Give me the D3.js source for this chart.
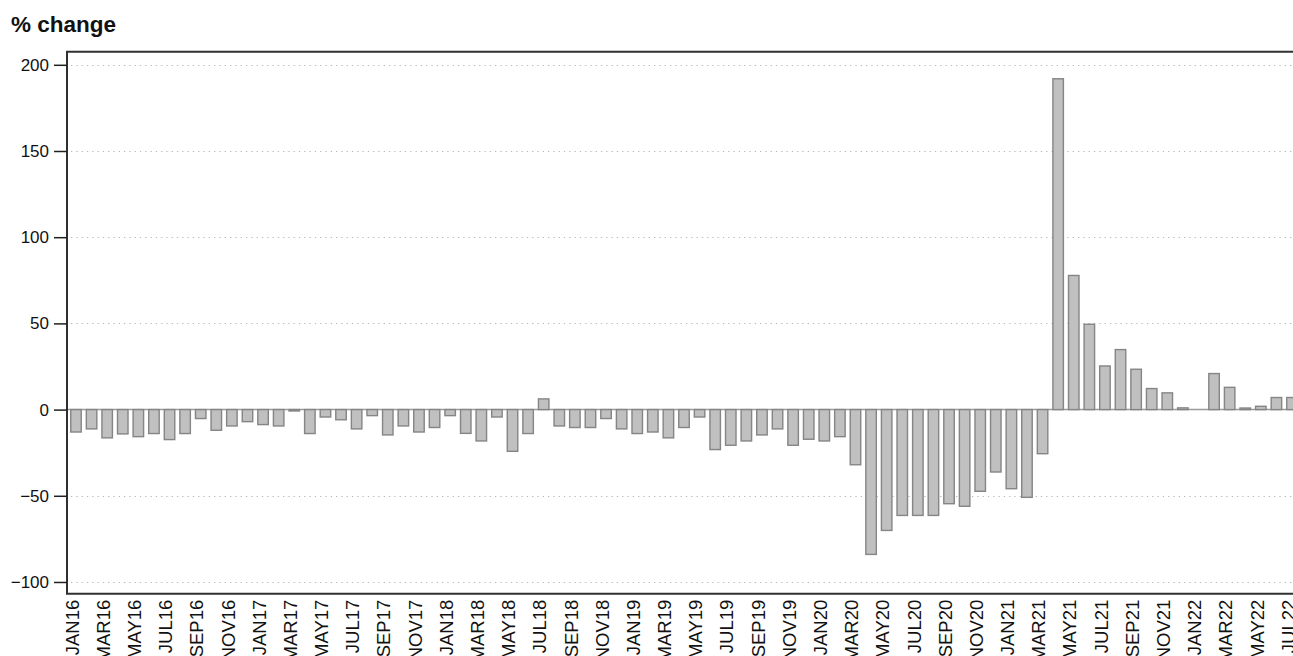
<!DOCTYPE html>
<html>
<head>
<meta charset="utf-8">
<script src="https://cdn.jsdelivr.net/npm/d3@7/dist/d3.min.js"></script>
<style>
  html, body { margin: 0; padding: 0; background: #fff; overflow: hidden; }
  svg { display: block; font-family: "Liberation Sans", Arial, sans-serif; }
</style>
</head>
<body>
<svg id="chart" width="1293" height="656"></svg>
<script>
// Month labels, Jan 2016 – Jul 2022
const months = [
  "JAN16","FEB16","MAR16","APR16","MAY16","JUN16","JUL16","AUG16","SEP16","OCT16","NOV16","DEC16",
  "JAN17","FEB17","MAR17","APR17","MAY17","JUN17","JUL17","AUG17","SEP17","OCT17","NOV17","DEC17",
  "JAN18","FEB18","MAR18","APR18","MAY18","JUN18","JUL18","AUG18","SEP18","OCT18","NOV18","DEC18",
  "JAN19","FEB19","MAR19","APR19","MAY19","JUN19","JUL19","AUG19","SEP19","OCT19","NOV19","DEC19",
  "JAN20","FEB20","MAR20","APR20","MAY20","JUN20","JUL20","AUG20","SEP20","OCT20","NOV20","DEC20",
  "JAN21","FEB21","MAR21","APR21","MAY21","JUN21","JUL21","AUG21","SEP21","OCT21","NOV21","DEC21",
  "JAN22","FEB22","MAR22","APR22","MAY22","JUN22","JUL22"
];

// Year-over-year % change for each month
const pctChange = [
  -13.0, -11.2, -16.4, -14.1, -15.7, -13.9, -17.4, -13.9,  -5.2, -12.0,  -9.5,  -7.0,
   -8.7,  -9.5,  -0.8, -13.9,  -4.3,  -5.9, -11.2,  -3.5, -14.7,  -9.5, -13.0, -10.4,
   -3.5, -13.8, -18.2,  -4.3, -24.2, -13.9,   6.2,  -9.5, -10.4, -10.4,  -5.2, -11.2,
  -13.9, -13.0, -16.4, -10.4,  -4.3, -23.2, -20.7, -18.2, -14.7, -11.2, -20.7, -17.2,
  -18.2, -15.7, -32.0, -84.0, -70.1, -61.4, -61.4, -61.4, -54.6, -56.1, -47.4, -36.2,
  -45.9, -50.9, -25.6, 191.9,  77.8,  49.5,  25.3,  34.8,  23.4,  12.2,   9.7,   1.0,
    0.0,  20.9,  12.9,   0.9,   1.9,   7.0,   7.0
];

// Y-axis ticks
const yTicks = [-100, -50, 0, 50, 100, 150, 200];
const yDomain = [-106.8, 207.6];

// Every other month is labelled on the x axis
const xLabels = months.filter((d, i) => i % 2 === 0);

const svg = d3.select("#chart");

const plot = { left: 67, right: 1301, top: 51.7, bottom: 593.7 };

const x = d3.scaleBand()
  .domain(months)
  .range([68.2, 1299.8])
  .paddingInner(0.25)
  .paddingOuter(0.125);

const y = d3.scaleLinear()
  .domain(yDomain)
  .range([plot.bottom, plot.top]);

// Dotted reference lines
svg.append("g")
  .selectAll("line")
  .data(yTicks.filter(t => t !== 0))
  .join("line")
  .attr("x1", plot.left + 4)
  .attr("x2", plot.right)
  .attr("y1", d => Math.round(y(d)) + 0.5)
  .attr("y2", d => Math.round(y(d)) + 0.5)
  .attr("stroke", "#b8b8b8")
  .attr("stroke-width", 1)
  .attr("stroke-dasharray", "1.3,4");

// Zero line
svg.append("line")
  .attr("x1", plot.left)
  .attr("x2", plot.right)
  .attr("y1", y(0))
  .attr("y2", y(0))
  .attr("stroke", "#9a9a9a")
  .attr("stroke-width", 1.5);

// Bars
svg.append("g")
  .selectAll("rect")
  .data(months.map((m, i) => ({ m, v: pctChange[i] })))
  .join("rect")
  .attr("x", d => x(d.m) + 0.6)
  .attr("width", x.bandwidth() - 1.2)
  .attr("y", d => y(Math.max(0, d.v)))
  .attr("height", d => Math.abs(y(d.v) - y(0)))
  .attr("fill", "#c0c0c0")
  .attr("stroke", "#858585")
  .attr("stroke-width", 1.4);

// Frame: top, left and bottom
svg.append("path")
  .attr("d", `M${plot.right},${plot.top}H${plot.left}V${plot.bottom}H${plot.right}`)
  .attr("fill", "none")
  .attr("stroke", "#303030")
  .attr("stroke-width", 2);

// Y axis
const yAxis = d3.axisLeft(y)
  .tickValues(yTicks)
  .tickSize(13)
  .tickPadding(5)
  .tickFormat(d3.format("d"));

const gy = svg.append("g")
  .attr("transform", `translate(${plot.left},0)`)
  .call(yAxis);
gy.select(".domain").remove();
gy.selectAll(".tick line").attr("stroke", "#202020").attr("stroke-width", 1.5);
gy.selectAll(".tick text")
  .attr("fill", "#111")
  .style("font-size", "17px");

// X axis labels (rotated)
const xAxis = d3.axisBottom(x)
  .tickValues(xLabels)
  .tickSize(0)
  .tickPadding(0);

const gx = svg.append("g")
  .attr("transform", `translate(0,${plot.bottom})`)
  .call(xAxis);
gx.select(".domain").remove();
gx.selectAll(".tick text")
  .attr("fill", "#111")
  .style("font-size", "18.5px")
  .attr("text-anchor", "end")
  .attr("transform", "translate(-1,6) rotate(-90)")
  .attr("x", 0)
  .attr("y", 0)
  .attr("dy", "0.2em");

// Title
svg.append("text")
  .attr("x", 11)
  .attr("y", 32)
  .attr("fill", "#111")
  .style("font-size", "22.5px")
  .style("font-weight", "bold")
  .text("% change");
</script>
</body>
</html>
